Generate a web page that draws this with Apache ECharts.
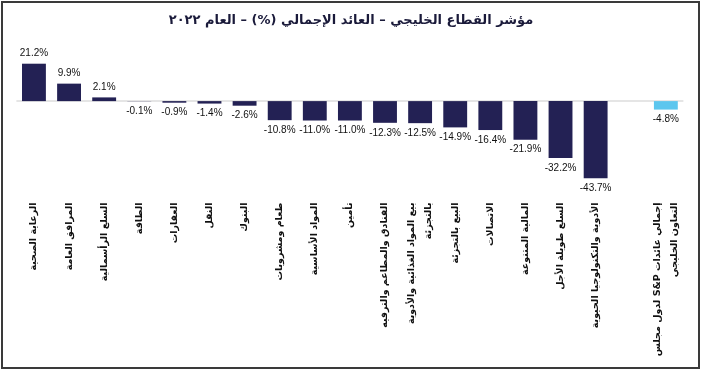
<!DOCTYPE html>
<html>
<head>
<meta charset="utf-8">
<script src="https://cdn.jsdelivr.net/npm/echarts@6/dist/echarts.min.js"></script>
<style>
html,body{margin:0;padding:0;background:#fff;}
#chart{width:702px;height:372px;}
</style>
</head>
<body>
<div id="chart"></div>
<script>
var titleText = "مؤشر القطاع الخليجي – العائد الإجمالي (%) – العام ٢٠٢٢";
var categories = [
  "الرعاية الصحية",
  "المرافق العامة",
  "السلع الرأسمالية",
  "الطاقة",
  "العقارات",
  "النقل",
  "البنوك",
  "طعام ومشروبات",
  "المواد الأساسية",
  "تأمين",
  "الفنادق والمطاعم والترفيه",
  "بيع المواد الغذائية والأدوية\nبالتجزئة",
  "البيع بالتجزئة",
  "الاتصالات",
  "المالية المتنوعة",
  "السلع طويلة الأجل",
  "الأدوية والتكنولوجيا الحيوية",
  "",
  "إجمالي عائدات S&P لدول مجلس\nالتعاون الخليجي"
];
var returns = [21.2, 9.9, 2.1, -0.1, -0.9, -1.4, -2.6, -10.8, -11.0, -11.0, -12.3, -12.5, -14.9, -16.4, -21.9, -32.2, -43.7, null, -4.8];
var totalIndex = 18;

var NAVY = '#232154';
var LIGHT = '#5cc6ee';

function rtl(s){
  return s.split('\n').map(function(l){ return l ? '\u202B' + l + '\u202C' : l; }).join('\n');
}

var seriesData = returns.map(function(v, i){
  if (v === null) return null;
  return {
    value: v,
    itemStyle: {color: i === totalIndex ? LIGHT : NAVY},
    label: {position: v < 0 ? 'bottom' : 'top'}
  };
});

var chart = echarts.init(document.getElementById('chart'), null, {renderer: 'canvas'});
chart.setOption({
  animation: false,
  backgroundColor: '#fff',
  title: {
    text: rtl(titleText),
    left: 'center',
    top: 9,
    textStyle: {fontFamily: 'DejaVu Sans', fontSize: 13, fontWeight: 'bold', color: '#1a1a3a'}
  },
  graphic: [{
    type: 'rect',
    shape: {x: 2, y: 2, width: 697, height: 366},
    style: {fill: 'none', stroke: '#3a3a3a', lineWidth: 2},
    silent: true,
    z: 100
  }],
  grid: {left: 16.4, right: 18.6, top: 57, bottom: 191.5, containLabel: false},
  xAxis: {
    type: 'category',
    data: categories,
    axisLine: {show: false},
    axisTick: {show: false},
    splitLine: {show: false},
    axisLabel: {
      interval: 0,
      rotate: 90,
      margin: 22,
      fontFamily: 'DejaVu Sans',
      fontSize: 9.5,
      fontWeight: 'bold',
      lineHeight: 17,
      color: '#111',
      formatter: function(v){ return rtl(v); }
    }
  },
  yAxis: {
    type: 'value',
    min: -45,
    max: 25,
    show: false,
    splitLine: {show: false}
  },
  series: [{
    type: 'bar',
    data: seriesData,
    barWidth: '68%',
    label: {
      show: true,
      distance: 5,
      fontFamily: 'Liberation Sans',
      fontSize: 10,
      color: '#111',
      formatter: function(p){ return p.value.toFixed(1) + '%'; }
    },
    markLine: {
      silent: true,
      symbol: 'none',
      label: {show: false},
      lineStyle: {color: '#dcdcdc', type: 'solid', width: 1.5},
      data: [{yAxis: 0}],
      z: 1
    }
  }]
});
</script>
</body>
</html>
